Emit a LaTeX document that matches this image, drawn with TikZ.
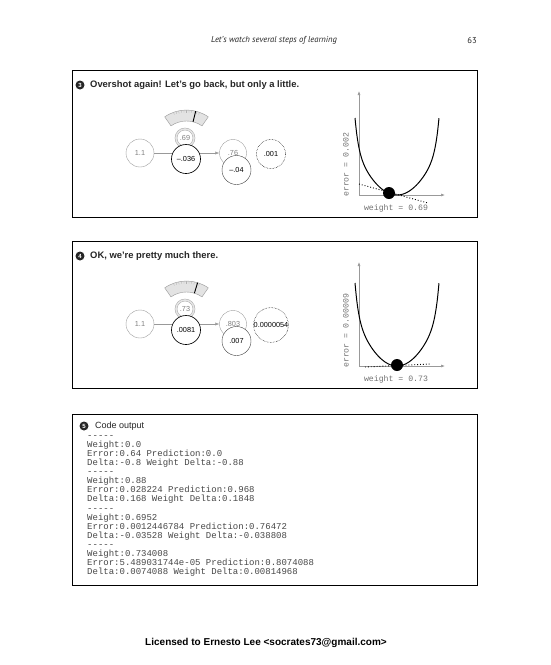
\documentclass[tikz,border=0pt]{standalone}
\usepackage{fontspec}
\setmainfont{Liberation Sans}
\setmonofont{Liberation Mono}
\newfontfamily\hdrfont{PT Sans}
\usetikzlibrary{arrows.meta}
\tikzset{
  panelbox/.style={draw=black, line width=0.8pt},
  numc/.style={circle, fill=black!85, inner sep=0pt, minimum size=9pt, text=white, font=\bfseries\fontsize{6}{6}\selectfont},
  ttl/.style={anchor=west, inner sep=0pt, text=black!85, font=\bfseries\fontsize{9.4}{11}\selectfont},
  netlbl/.style={font=\fontsize{7.3}{8}\selectfont, inner sep=0pt},
  grayc/.style={netlbl, circle, draw=gray!75, fill=white, minimum size=28pt, text=gray},
  blackc/.style={netlbl, circle, draw=black, line width=0.65pt, fill=white, minimum size=29pt},
  deltac/.style={netlbl, circle, draw=black!75, line width=0.4pt, fill=white, minimum size=29pt},
  errc/.style={netlbl, circle, draw=black, densely dotted, line width=0.5pt, minimum size=29pt},
  dblc/.style={netlbl, circle, draw=gray!75, double=gray!20, double distance=1.6pt, fill=white, minimum size=18pt, text=gray},
  conn/.style={gray!80, line width=0.5pt, -{Latex[length=4pt,width=3.2pt]}},
  gaugeline/.style={draw=gray!80, fill=gray!22, line width=0.4pt},
  axisl/.style={gray!80, line width=0.6pt, -{Latex[length=4pt,width=3pt]}},
  curvel/.style={black, line width=1pt},
  ballc/.style={circle, fill=black, inner sep=0pt, minimum size=12pt},
  tang/.style={black, dotted, line width=0.9pt},
  monol/.style={font=\ttfamily\fontsize{8.2}{9}\selectfont, text=gray!90!black, inner sep=0pt},
}
\newcommand{\netgraph}[8]{%
  % #1 yshift, #2 weight input, #3 weight delta, #4 prediction, #5 delta, #6 error, #7 needle angle, #8 name prefix
  \begin{scope}[yshift=#1]
    \draw[gaugeline] (186.5,-148) ++(55:38) arc[start angle=55,end angle=125,radius=38]
       -- ++(125:-11) arc[start angle=125,end angle=55,radius=27] -- cycle;
    \foreach \a in {70,74,...,110} \draw[gray!60, line width=0.3pt] (186.5,-148) ++(\a:35.5) -- ++(\a:2.5);
    \draw[black, line width=0.9pt] (186.5,-148) ++(#7:27) -- ++(#7:11);
    \node[dblc] (#8w) at (185,-138) {#2};
    \node[grayc] (#8in) at (140,-153) {1.1};
    \node[grayc, minimum size=27pt] (#8pred) at (233,-153) {#4};
    \draw[conn] (#8in) -- (#8pred);
    \node[blackc] (#8wd) at (186,-159) {#3};
    \node[deltac] (#8dl) at (236.5,-170) {#5};
    \node[errc] (#8er) at (271,-154) {#6};
  \end{scope}}
\begin{document}
\begin{tikzpicture}[x=1pt,y=1pt]
\useasboundingbox (0,0) rectangle (550,-665);
\fill[white] (0,0) rectangle (550,-665);

% header
\node[font=\hdrfont\itshape\fontsize{8.6}{10}\selectfont, text=black!85] (hdr) at (274,-40) {Let’s watch several steps of learning};
\node[font=\hdrfont\fontsize{8.6}{10}\selectfont, text=black!85] (pg) at (472,-40) {63};

% ---------- panel 3 ----------
\draw[panelbox] (72,-70) rectangle (477,-217);
\node[numc] (n3) at (80,-85) {3};
\node[ttl] (t3) at (90,-85) {Overshot again! Let’s go back, but only a little.};
\netgraph{0pt}{.69}{–.036}{.76}{–.04}{.001}{76}{a}
% graph 3
\draw[axisl] (359,-195) -- (359,-91);
\draw[axisl] (359,-195) -- (445,-195);
\draw[curvel] plot[smooth, domain=-1:1, samples=60] ({397+42*\x},{-195+77*(0.6*\x*\x+0.4*abs(\x)^12)});
\draw[tang] (359,-184) -- (428,-203);
\node[ballc] (b3) at (389,-193) {};
\node[monol] (x3) at (396,-208) {weight = 0.69};
\node[monol, rotate=90, anchor=west] (y3) at (346,-197) {error = 0.002};

% ---------- panel 4 ----------
\draw[panelbox] (72,-241) rectangle (477,-388);
\node[numc] (n4) at (80,-256) {4};
\node[ttl] (t4) at (90,-256) {OK, we’re pretty much there.};
\netgraph{-171pt}{.73}{.0081}{.803}{.007}{0.0000054}{73}{b}
% graph 4
\draw[axisl] (359,-366) -- (359,-262);
\draw[axisl] (359,-366) -- (445,-366);
\draw[curvel] plot[smooth, domain=-1:1, samples=60] ({397+42*\x},{-366+83*(0.6*\x*\x+0.4*abs(\x)^12)});
\draw[tang] (365,-367) -- (430,-364);
\node[ballc] (b4) at (397,-365) {};
\node[monol] (x4) at (396,-379) {weight = 0.73};
\node[monol, rotate=90, anchor=west] (y4) at (346,-368) {error = 0.00009};

% ---------- panel 5 ----------
\draw[panelbox] (72,-414) rectangle (477,-585);
\node[numc] (n5) at (84,-426) {5};
\node[anchor=west, inner sep=0pt, text=black!85, font=\fontsize{9}{10}\selectfont] (t5) at (95,-426) {Code output};
\node[anchor=north west, align=left, inner sep=0pt, text=black!72,
      font=\ttfamily\fontsize{9}{9.07}\selectfont] (code) at (87,-435.5) {-----\\
Weight:0.0\\
Error:0.64 Prediction:0.0\\
Delta:-0.8 Weight Delta:-0.88\\
-----\\
Weight:0.88\\
Error:0.028224 Prediction:0.968\\
Delta:0.168 Weight Delta:0.1848\\
-----\\
Weight:0.6952\\
Error:0.0012446784 Prediction:0.76472\\
Delta:-0.03528 Weight Delta:-0.038808\\
-----\\
Weight:0.734008\\
Error:5.489031744e-05 Prediction:0.8074088\\
Delta:0.0074088 Weight Delta:0.00814968};

% footer
\node[font=\bfseries\fontsize{10}{12}\selectfont] (lic) at (266,-643) {Licensed to Ernesto Lee <socrates73@gmail.com>};
\end{tikzpicture}
\end{document}
